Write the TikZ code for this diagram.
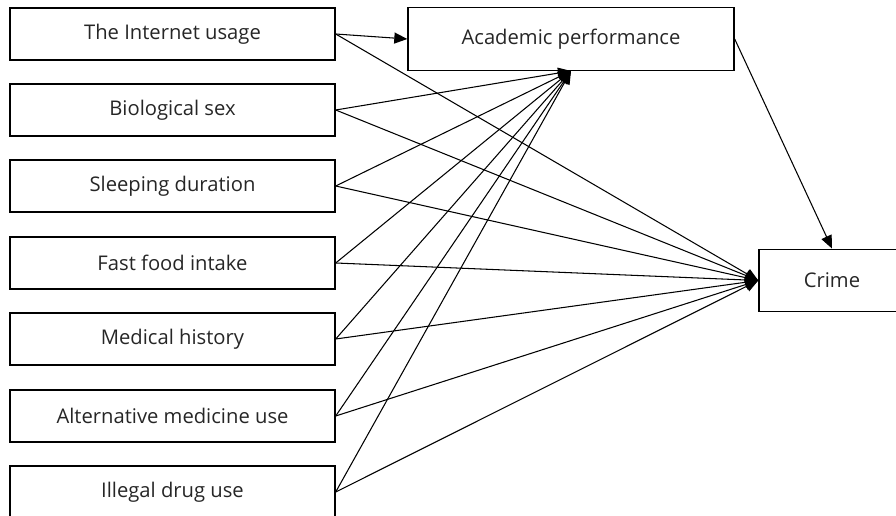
\documentclass[tikz,border=0pt]{standalone}
\usepackage{fontspec}
\setmainfont{Open Sans}
\usetikzlibrary{arrows.meta}

\tikzset{
    factor/.style = {draw, line width=0.8pt, minimum width=6.5cm, minimum height=1.04cm, inner sep=0pt, text=black!85, font=\fontsize{11.5}{14}\selectfont},
    outcome/.style = {draw, line width=0.8pt, minimum height=1.25cm, inner sep=0pt, text=black!85, font=\fontsize{11.5}{14}\selectfont},
    path/.style = {line width=0.6pt, -{Triangle[length=2.6mm,width=2.2mm]}}
}

\begin{document}
\begin{tikzpicture}

    \useasboundingbox (0,0) rectangle (17.92,10.30);

    % Predictors
    \node[factor] (inet)  at (3.45,9.62) {The Internet usage};
    \node[factor] (sex)   at (3.45,8.10) {Biological sex};
    \node[factor] (sleep) at (3.45,6.58) {Sleeping duration};
    \node[factor] (food)  at (3.45,5.04) {Fast food intake};
    \node[factor] (med)   at (3.45,3.52) {Medical history};
    \node[factor] (alt)   at (3.45,1.98) {Alternative medicine use};
    \node[factor] (drug)  at (3.45,0.46) {Illegal drug use};

    % Mediator and outcome
    \node[outcome, minimum width=6.52cm] (acad)  at (11.42,9.52) {Academic performance};
    \node[outcome, minimum width=2.92cm] (crime) at (16.64,4.69) {Crime};

    % Paths to academic performance
    \draw[path] (inet.east) -- (acad.west);
    \foreach \p in {sex,sleep,food,med,alt,drug}
        \draw[path] (\p.east) -- (acad.south);

    % Paths to crime
    \foreach \p in {inet,sex,sleep,food,med,alt,drug}
        \draw[path] (\p.east) -- (crime.west);
    \draw[path] (acad.east) -- (crime.north);

\end{tikzpicture}
\end{document}
